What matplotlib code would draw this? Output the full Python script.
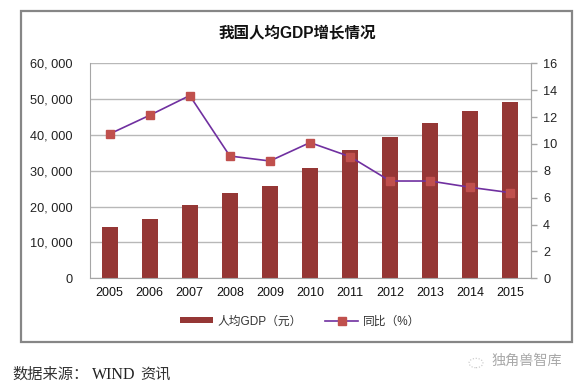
import matplotlib.pyplot as plt
from matplotlib.patches import Rectangle, Circle

plt.rcParams['font.family'] = ['Liberation Sans', 'Noto Sans CJK SC', 'DejaVu Sans']

years = ['2005', '2006', '2007', '2008', '2009', '2010', '2011', '2012', '2013', '2014', '2015']
gdp_per_capita = [14300, 16600, 20400, 23800, 25850, 30700, 35900, 39400, 43300, 46700, 49200]
yoy_growth = [10.74, 12.13, 13.6, 9.1, 8.73, 10.1, 9.05, 7.24, 7.24, 6.77, 6.37]
left_ticks = [0, 10000, 20000, 30000, 40000, 50000, 60000]
left_labels = ['0', '10, 000', '20, 000', '30, 000', '40, 000', '50, 000', '60, 000']
right_ticks = [0, 2, 4, 6, 8, 10, 12, 14, 16]

W, H = 580, 390
fig = plt.figure(figsize=(5.8, 3.9), dpi=100)

# Outer grey frame of the chart, kept behind the axes
fig.add_artist(Rectangle((21 / W, 1 - 341.5 / H), 551 / W, 330.5 / H, transform=fig.transFigure,
                         facecolor='white', edgecolor='#868686', linewidth=1.6, zorder=-1))

ax = fig.add_axes([89.5 / W, 1 - 278.3 / H, 441 / W, 215 / H])
ax.set_facecolor('none')
x = range(len(years))
bars = ax.bar(x, gdp_per_capita, width=0.4, color='#953735', zorder=2, label='人均GDP（元）')
ax.set_xlim(-0.5, 10.5)
ax.set_ylim(0, 60000)
ax.set_xticks(list(x))
ax.set_xticklabels(years, fontsize=9, color='#111111')
ax.set_yticks(left_ticks)
ax.set_yticklabels(left_labels, fontsize=9.2, color='#222222')
ax.tick_params(axis='x', length=0, pad=6)
ax.tick_params(axis='y', length=0, pad=12.5)
ax.grid(axis='y', color='#b8b8b8', linewidth=1, zorder=0)
ax.set_axisbelow(True)
for side in ['left', 'top', 'bottom', 'right']:
    ax.spines[side].set_color('#a6a6a6')
ax.spines['top'].set_visible(False)

ax2 = ax.twinx()
line, = ax2.plot(x, yoy_growth, color='#7030a0', linewidth=1.2, marker='s', markersize=6,
                 markerfacecolor='#c0504d', markeredgecolor='#c0504d', zorder=3, label='同比（%）')
ax2.set_ylim(0, 16)
ax2.set_yticks(right_ticks)
ax2.set_yticklabels([str(t) for t in right_ticks], fontsize=9.2, color='#222222')
ax2.tick_params(axis='y', length=4, width=1, color='#a6a6a6', pad=5)
for side in ['left', 'top', 'bottom', 'right']:
    ax2.spines[side].set_color('#a6a6a6')
ax2.spines['top'].set_visible(False)
ax2.spines['left'].set_visible(False)
ax2.spines['bottom'].set_visible(False)

fig.text(297 / W, 1 - 33 / H, '我国人均GDP增长情况', fontsize=11.2, fontweight='bold', color='#111111',
         ha='center', va='center')

# Legend, bar entry drawn as a flat stripe like the original
legend = fig.legend([bars, line], ['人均GDP（元）', '同比（%）'], loc='center', ncol=2, frameon=False,
                    bbox_to_anchor=(300 / W, 1 - 321.5 / H), fontsize=8.5, handlelength=2.8,
                    handleheight=0.35, columnspacing=2.0, handletextpad=0.4, labelcolor='#333333')

fig.text(12 / W, 1 - 375 / H, '数据来源：', fontsize=11, color='#333333', va='center')
fig.text(92 / W, 1 - 375 / H, 'WIND', fontsize=11.5, color='#222222', va='center', family='Liberation Serif')
fig.text(140 / W, 1 - 375 / H, '资讯', fontsize=11, color='#333333', va='center')

# Faint watermark in the bottom right corner
fig.add_artist(Circle((476 / W, 1 - 363 / H), 0.012, transform=fig.transFigure, fill=False,
                      edgecolor='#c4c4c4', linewidth=0.8, linestyle=':'))
fig.text(491 / W, 1 - 361 / H, '独角兽智库', fontsize=10.2, color='#a8a8a8', va='center')

fig.savefig('out.png', dpi=100)
